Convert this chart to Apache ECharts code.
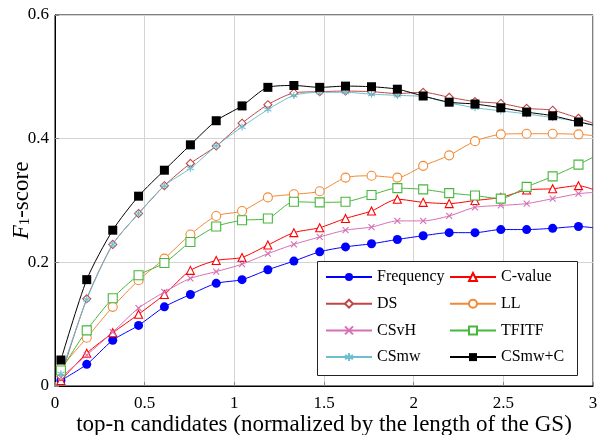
<!DOCTYPE html>
<html><head><meta charset="utf-8">
<script src="https://cdn.jsdelivr.net/npm/echarts@6/dist/echarts.min.js"></script>
<style>html,body{margin:0;padding:0;background:#fff}#c{width:597px;height:435px}</style>
</head><body><div id="c"></div>
<script>
// x positions of the sampled points (top-n normalized by |GS|); the last one is the right edge
const xValues = [0.033, 0.177, 0.322, 0.466, 0.610, 0.755, 0.899, 1.043, 1.187, 1.332, 1.476, 1.620, 1.765, 1.909, 2.053, 2.198, 2.342, 2.486, 2.630, 2.775, 2.919, 3.0];

const frequency = [0.009, 0.035, 0.074, 0.098, 0.128, 0.148, 0.166, 0.172, 0.188, 0.202, 0.217, 0.225, 0.230, 0.237, 0.243, 0.248, 0.248, 0.253, 0.253, 0.255, 0.258, 0.256];
const cValue    = [0.009, 0.053, 0.086, 0.116, 0.148, 0.187, 0.203, 0.208, 0.228, 0.248, 0.256, 0.271, 0.283, 0.302, 0.297, 0.295, 0.300, 0.305, 0.317, 0.319, 0.324, 0.318];
const ds        = [0.015, 0.141, 0.229, 0.279, 0.324, 0.360, 0.388, 0.425, 0.455, 0.474, 0.476, 0.477, 0.476, 0.473, 0.475, 0.467, 0.460, 0.457, 0.449, 0.446, 0.433, 0.425];
const ll        = [0.030, 0.078, 0.128, 0.171, 0.206, 0.245, 0.275, 0.283, 0.305, 0.310, 0.315, 0.337, 0.340, 0.337, 0.356, 0.373, 0.396, 0.407, 0.408, 0.408, 0.407, 0.405];
const csvh      = [0.014, 0.050, 0.087, 0.126, 0.152, 0.174, 0.185, 0.197, 0.214, 0.229, 0.241, 0.252, 0.257, 0.267, 0.267, 0.275, 0.289, 0.292, 0.295, 0.303, 0.311, 0.313];
const tfitf     = [0.025, 0.090, 0.142, 0.179, 0.199, 0.233, 0.258, 0.268, 0.271, 0.298, 0.297, 0.298, 0.309, 0.320, 0.318, 0.312, 0.308, 0.303, 0.322, 0.339, 0.358, 0.370];
const csmw      = [0.020, 0.140, 0.229, 0.279, 0.324, 0.352, 0.388, 0.419, 0.447, 0.470, 0.475, 0.475, 0.472, 0.470, 0.468, 0.458, 0.450, 0.445, 0.440, 0.434, 0.428, 0.422];
const csmwC     = [0.042, 0.172, 0.252, 0.307, 0.349, 0.390, 0.429, 0.453, 0.483, 0.486, 0.483, 0.485, 0.484, 0.480, 0.469, 0.459, 0.456, 0.450, 0.443, 0.437, 0.427, 0.422];

const xTicks = [0, 0.5, 1, 1.5, 2, 2.5, 3];
const yTicks = [0, 0.2, 0.4, 0.6];

const FONT = 'Liberation Serif';
const X_PATH = 'path://M0,0L10,10M0,10L10,0';
const AST_PATH = 'path://M5,0L5,10M0.7,2.5L9.3,7.5M0.7,7.5L9.3,2.5';

function mk(name, values, color, symbol, size, fill, bw) {
  const data = values.map((v, i) => {
    const p = { value: [xValues[i], v] };
    if (i === values.length - 1) p.symbol = 'none';
    return p;
  });
  return {
    name, type: 'line', data, symbol, symbolSize: size, smooth: 0.25,
    showAllSymbol: true, animation: false,
    lineStyle: { color, width: 1 },
    itemStyle: { color: fill, borderColor: color, borderWidth: bw },
    emphasis: { disabled: true }
  };
}

const series = [
  mk('Frequency', frequency, '#0000ff', 'circle', 9, '#0000ff', 0),
  mk('C-value', cValue, '#ff0000', 'triangle', 8, '#ffffff', 1.1),
  mk('DS', ds, '#bf4646', 'diamond', 8, '#ffffff', 1.1),
  mk('LL', ll, '#f28a35', 'circle', 9, '#ffffff', 1.1),
  mk('CSvH', csvh, '#d66fb4', X_PATH, 6, 'none', 1.1),
  mk('TFITF', tfitf, '#47b83d', 'rect', 9, '#ffffff', 1.1),
  mk('CSmw', csmw, '#6dbfd0', AST_PATH, 7, 'none', 1.1),
  mk('CSmw+C', csmwC, '#000000', 'rect', 9, '#000000', 0)
];

const legendCommon = {
  orient: 'vertical', itemWidth: 46, itemHeight: 10, itemGap: 10.7, padding: 0,
  textStyle: { fontFamily: FONT, fontSize: 16, color: '#000' },
  selectedMode: false, z: 10
};

const chart = echarts.init(document.getElementById('c'), null, { renderer: 'canvas' });
chart.setOption({
  animation: false,
  backgroundColor: '#fff',
  grid: { left: 55, right: 4, top: 15, bottom: 49, show: true, borderColor: '#000', borderWidth: 1, outerBoundsMode: 'none', containLabel: false },
  xAxis: {
    type: 'value', min: xTicks[0], max: xTicks[xTicks.length - 1], interval: 0.5,
    name: 'top-n candidates (normalized by the length of the GS)',
    nameLocation: 'middle', nameGap: 27, nameMoveOverlap: false,
    nameTextStyle: { fontFamily: FONT, fontSize: 23, color: '#000' },
    axisLine: { show: true, lineStyle: { color: '#000', width: 1 } },
    axisTick: { show: true, inside: true, length: 4, lineStyle: { color: '#888' } },
    axisLabel: { fontFamily: FONT, fontSize: 17, color: '#000', margin: 9 },
    splitLine: { show: true, lineStyle: { color: '#d4d4d4', width: 1 } }
  },
  yAxis: {
    type: 'value', min: yTicks[0], max: yTicks[yTicks.length - 1], interval: 0.2,
    name: '{i|F}{s|1}-score',
    nameLocation: 'middle', nameGap: 22, nameRotate: 90, nameMoveOverlap: false,
    nameTextStyle: {
      fontFamily: FONT, fontSize: 23, color: '#000',
      rich: {
        i: { fontFamily: FONT, fontSize: 23, fontStyle: 'italic', color: '#000' },
        s: { fontFamily: FONT, fontSize: 15, color: '#000', verticalAlign: 'bottom', padding: [6, 0, 0, 0] }
      }
    },
    axisLine: { show: true, lineStyle: { color: '#000', width: 1 } },
    axisTick: { show: true, inside: true, length: 4, lineStyle: { color: '#888' } },
    axisLabel: { fontFamily: FONT, fontSize: 17, color: '#000', margin: 6 },
    splitLine: { show: true, lineStyle: { color: '#d4d4d4', width: 1 } }
  },
  legend: [
    Object.assign({ left: 325, top: 269, data: ['Frequency', 'DS', 'CSvH', 'CSmw'] }, legendCommon),
    Object.assign({ left: 449, top: 269, data: ['C-value', 'LL', 'TFITF', 'CSmw+C'] }, legendCommon)
  ],
  graphic: [{
    type: 'rect', z: 5, silent: true,
    shape: { x: 317.5, y: 261.5, width: 260, height: 114 },
    style: { fill: '#fff', stroke: '#222', lineWidth: 1 }
  }],
  series
});
</script>
</body></html>
